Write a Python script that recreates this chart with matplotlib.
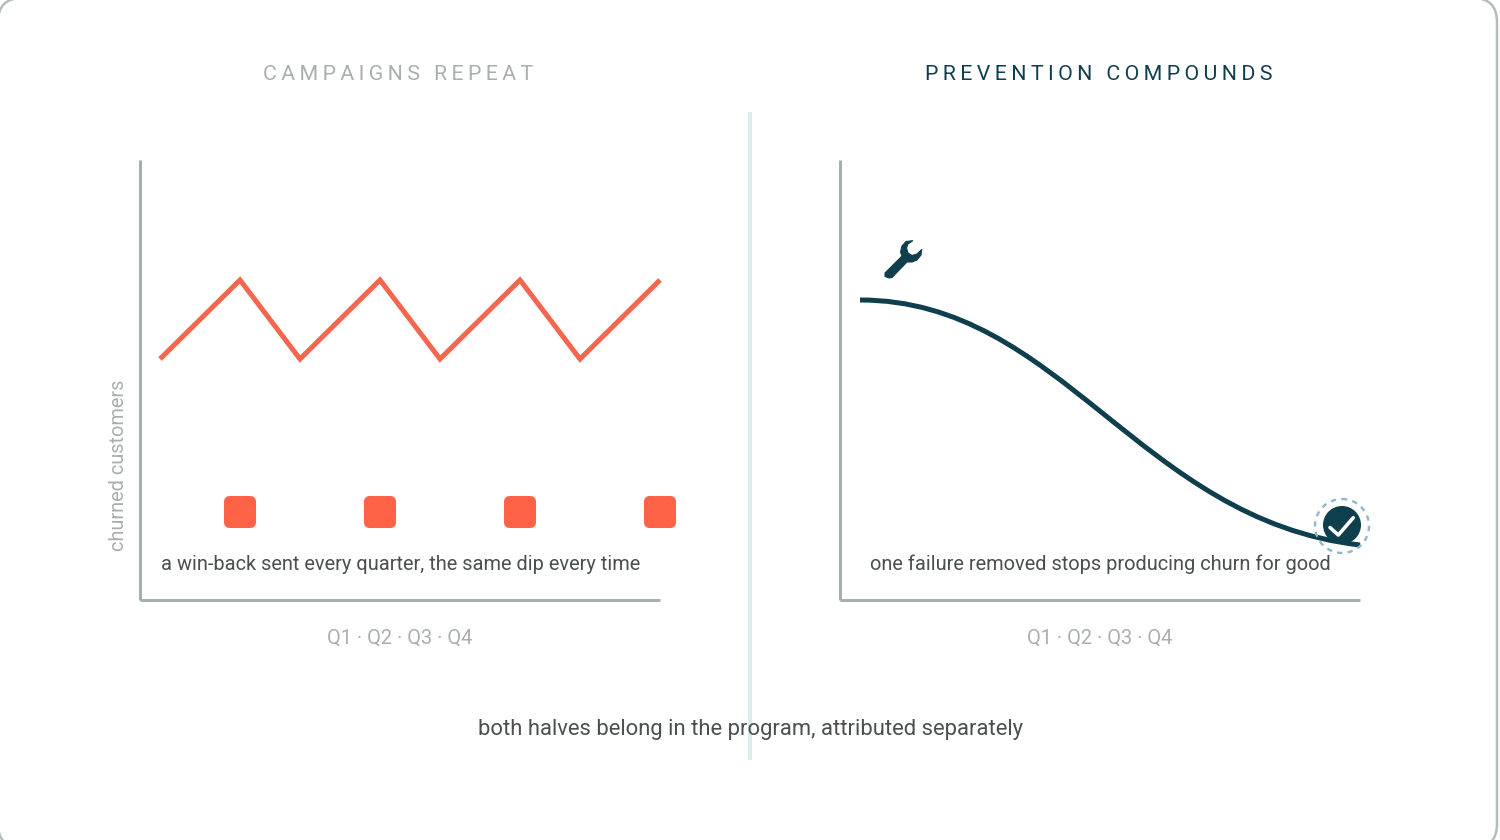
import matplotlib
matplotlib.use("Agg")
import matplotlib.pyplot as plt
from matplotlib.patches import FancyBboxPatch, Circle, Polygon, PathPatch
from matplotlib.path import Path

plt.rcParams['font.family'] = ['Roboto', 'DejaVu Sans']

# values (x = px along the axis, y = px above the axis)
campaign_x = [20, 100, 160, 240, 300, 380, 440, 520]
campaign_y = [241, 320, 241, 320, 241, 320, 241, 320]
winback_x = [100, 240, 380, 520]
winback_y = [88, 88, 88, 88]

# the prevention curve is one cubic bezier: start, two handles, end
prevention_x = [20, 220, 300, 520]
prevention_y = [300, 300, 80, 55]

title_left = "CAMPAIGNS REPEAT"
title_right = "PREVENTION COMPOUNDS"
note_left = "a win-back sent every quarter, the same dip every time"
note_right = "one failure removed stops producing churn for good"
tick_text = "Q1 · Q2 · Q3 · Q4"
y_title = "churned customers"
footer = "both halves belong in the program, attributed separately"

AXIS = '#a5b0ad'
MUTED = '#a9afae'
BODY = '#4a4f50'
DARK = '#0f3f4d'
CORAL = '#f4664e'
TOMATO = '#ff6347'


def px(size):
    return size * 0.72


def spaced(s):
    # letter spacing with thin spaces between the glyphs
    return "\u2009".join(s)


fig = plt.figure(figsize=(15, 8.4), dpi=100, facecolor='white')

# background layer in pixel coordinates
bg = fig.add_axes([0, 0, 1, 1])
bg.set_xlim(0, 1500)
bg.set_ylim(840, 0)
bg.axis('off')

bg.add_patch(FancyBboxPatch((-2, -2), 1499, 850, boxstyle="round,pad=0,rounding_size=24",
                            facecolor='white', edgecolor='#b4bdbb', linewidth=px(2.5)))
bg.plot([750, 750], [112, 760], color='#dcebec', lw=px(4), solid_capstyle='butt')

bg.text(398, 75, spaced(title_left), color=MUTED, fontsize=px(21.4), ha='center', va='center')
bg.text(1099, 75, spaced(title_right), color=DARK, fontsize=px(21.4), ha='center', va='center')
bg.text(119, 465, y_title, color=MUTED, fontsize=px(20), rotation=90, ha='center', va='center')
bg.text(400, 638, tick_text, color=MUTED, fontsize=px(20), ha='center', va='center')
bg.text(1100, 638, tick_text, color=MUTED, fontsize=px(20), ha='center', va='center')
bg.text(750, 730, footer, color=BODY, fontsize=px(22), ha='center', va='center', zorder=5)


def panel(left):
    # one panel: 520 x 440 px, one data unit = one pixel
    ax = fig.add_axes([left / 1500, (840 - 600) / 840, 520 / 1500, 440 / 840])
    ax.set_xlim(0, 520)
    ax.set_ylim(0, 440)
    ax.patch.set_alpha(0)
    ax.set_xticks([])
    ax.set_yticks([])
    ax.spines['top'].set_visible(False)
    ax.spines['right'].set_visible(False)
    for side in ['left', 'bottom']:
        ax.spines[side].set_color(AXIS)
        ax.spines[side].set_linewidth(px(3))
        ax.spines[side].set_capstyle('butt')
    return ax


ax1 = panel(140)
ax1.plot(campaign_x, campaign_y, color=CORAL, lw=px(5), solid_joinstyle='miter',
         solid_capstyle='butt', clip_on=False)
for x, y in zip(winback_x, winback_y):
    ax1.add_patch(FancyBboxPatch((x - 16, y - 16), 32, 32, boxstyle="round,pad=0,rounding_size=6",
                                 facecolor=TOMATO, edgecolor='none', clip_on=False))
ax1.text(21, 35, note_left, color=BODY, fontsize=px(20), ha='left', va='center')

ax2 = panel(840)
curve = Path(list(zip(prevention_x, prevention_y)), [Path.MOVETO, Path.CURVE4, Path.CURVE4, Path.CURVE4])
ax2.add_patch(PathPatch(curve, facecolor='none', edgecolor=DARK, lw=px(5), capstyle='butt', clip_on=False))
ax2.text(30, 36, note_right, color=BODY, fontsize=px(20), ha='left', va='center')

# wrench icon
wrench = [(912.7, 240.7), (906, 241.5), (902, 246), (900.5, 252), (902, 256), (885, 273),
          (885, 276.5), (889, 278), (892, 277.5), (907, 262), (912, 262), (917, 260),
          (921, 255), (921.7, 249.5), (917, 254), (912, 255.5), (908, 253), (906.5, 248),
          (908, 244)]
bg.add_patch(Polygon(wrench, closed=True, facecolor=DARK, edgecolor=DARK, lw=0.8, joinstyle='round'))

# check badge, drawn on top of the curve
top = fig.add_axes([0, 0, 1, 1])
top.set_xlim(0, 1500)
top.set_ylim(840, 0)
top.axis('off')
top.add_patch(Circle((1342, 525), 19, facecolor=DARK, edgecolor='none'))
top.add_patch(Circle((1342, 526), 27, facecolor='none', edgecolor='#8fb9c6', lw=px(2.4),
                     linestyle=(0, (2.2, 2.2))))
top.plot([1330, 1338.3, 1353.3], [527.5, 535, 517.7], color='white', lw=px(3.6),
         solid_capstyle='round', solid_joinstyle='round')

fig.savefig('out.png', dpi=100)
